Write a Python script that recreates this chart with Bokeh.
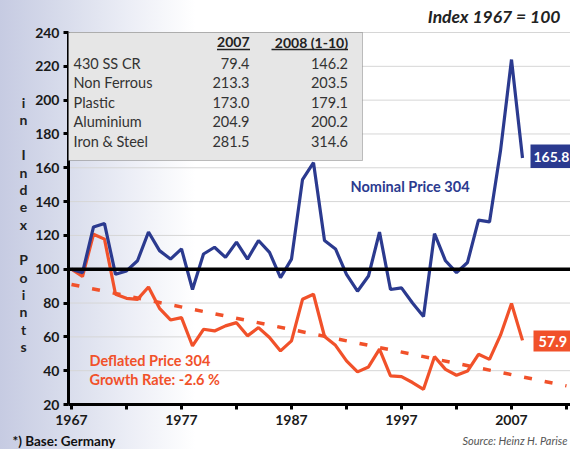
from bokeh.plotting import figure
from bokeh.models import Range1d, FixedTicker, BoxAnnotation, Label
from bokeh.embed import file_html
from bokeh.resources import INLINE

# ---------------- data ----------------
years = list(range(1967, 2009))
nominal = [100, 98, 125, 127, 97, 99, 105, 122, 111, 106,
           112, 88, 109, 113, 107, 116, 106, 117, 110, 95,
           106, 153, 163, 117, 112, 97, 87, 96, 122, 88,
           89, 80, 72, 121, 105, 98, 104, 129, 128, 170,
           224, 165.8]
deflated = [100, 95.7, 120.7, 117.8, 85.2, 82.8, 82.2, 89.5, 76.9, 70,
            71.4, 54.6, 64.5, 63.5, 66.5, 68.4, 60.6, 65.5, 59.6, 51.7,
            57.6, 82.2, 85.2, 60.2, 55, 45.8, 39.3, 42.2, 52.7, 36.9,
            36.5, 33, 29, 48.3, 40.8, 37.3, 39.8, 49.7, 46.7, 61,
            79.7, 57.9]
trend_years = [1967, 2012]
trend_values = [91.0, 31.0]
base_index = 100

y_ticks = [20, 40, 60, 80, 100, 120, 140, 160, 180, 200, 220, 240]
x_label_years = [1967, 1977, 1987, 1997, 2007]
x_minor_years = [1972, 1982, 1992, 2002, 2012]

table_headers = ["2007", "2008 (1-10)"]
table_rows = ["430 SS CR", "Non Ferrous", "Plastic", "Aluminium", "Iron & Steel"]
table_2007 = ["79.4", "213.3", "173.0", "204.9", "281.5"]
table_2008 = ["146.2", "203.5", "179.1", "200.2", "314.6"]

y_title = "in Index Points"
top_note = "Index 1967 = 100"
foot_left = "*) Base: Germany"
foot_right = "Source: Heinz H. Parise"

# ---------------- layout helpers ----------------
BLUE = "#2B3A8F"
RED = "#F1512A"
FONT = "Lato"
W, H = 570, 449
FL, FT, FB, FR = 68, 32, 404, 570   # plot-area edges in page pixels
X0, PXY = 71, 11.0                   # page x of 1967, px per year
PYU = (FB - FT) / 220.0


def xd(px):
    return 1967 + (px - X0) / PXY


def yd(py):
    return 20 + (FB - py) / PYU


# the frame covers the whole canvas; axes are pinned at the plot-area edges
p = figure(width=W, height=H, output_backend="svg", toolbar_location=None,
           x_range=Range1d(xd(0), xd(W)), y_range=Range1d(yd(H), yd(0)),
           min_border_left=0, min_border_right=0,
           min_border_top=0, min_border_bottom=0)
p.background_fill_color = None
p.border_fill_color = None
p.outline_line_color = None
p.styles = {"background": "linear-gradient(to right, #c6cbe2 0px, #d9ddec 68px, #eceef6 130px, #ffffff 195px)"}

p.xaxis.fixed_location = 20
p.yaxis.fixed_location = xd(FL)
p.xaxis.bounds = (xd(FL), xd(FR + 5))
p.yaxis.bounds = (20, 240)

for ax in (p.xaxis[0], p.yaxis[0]):
    ax.axis_line_color = "black"
    ax.axis_line_width = 3
    ax.major_tick_line_color = "black"
    ax.major_tick_line_width = 3
    ax.major_tick_in = 0
    ax.major_tick_out = 5
    ax.minor_tick_line_color = "black"
    ax.minor_tick_line_width = 3
    ax.minor_tick_in = 0
    ax.minor_tick_out = 5
    ax.major_label_text_font = FONT
    ax.major_label_text_font_style = "bold"
    ax.major_label_text_font_size = "14px"
    ax.major_label_text_color = "#1a1a1a"
p.xaxis.ticker = FixedTicker(ticks=x_label_years, minor_ticks=x_minor_years)
p.yaxis.ticker = FixedTicker(ticks=y_ticks, minor_ticks=[])
p.xaxis.major_label_standoff = 5
p.yaxis.major_label_standoff = 4

# horizontal grid lines from the y axis to the right edge, at the y ticks
p.grid.visible = False
p.segment(x0=[xd(FL)] * len(y_ticks), y0=y_ticks, x1=[xd(FR + 5)] * len(y_ticks), y1=y_ticks,
          line_color="#d6d6d6", line_width=1, level="underlay")

# series
p.line(trend_years, trend_values, line_color=RED, line_width=3.5, line_dash="8 13")
p.line(years, deflated, line_color=RED, line_width=3.2)
p.line(years, nominal, line_color=BLUE, line_width=3.2)
p.segment(x0=[xd(FL)], y0=[base_index], x1=[xd(FR + 5)], y1=[base_index],
          line_color="black", line_width=3.5)

# table box
p.add_layout(BoxAnnotation(left=xd(FL), right=xd(362), top=240, bottom=yd(160),
                           fill_color="#e6e6e6", fill_alpha=1,
                           line_color="#3a3a3a", line_width=1))


def lab(px, py, text, size="14px", style="normal", color="#333333",
        align="left", baseline="middle"):
    p.add_layout(Label(x=xd(px), y=yd(py), text=text, text_font=FONT,
                       text_font_size=size, text_font_style=style,
                       text_color=color, text_align=align,
                       text_baseline=baseline))


# table text
lab(249, 41.5, table_headers[0], style="bold", color="#222222", align="right")
lab(347.5, 41.5, table_headers[1], style="bold", color="#222222", align="right")
p.segment(x0=[xd(216.5), xd(271)], y0=[yd(49), yd(49)],
          x1=[xd(249.5), xd(347.5)], y1=[yd(49), yd(49)],
          line_color="#222222", line_width=1.3, level="overlay")
for i, name in enumerate(table_rows):
    yy = 62.5 + i * 19.5
    lab(73, yy, name, size="14.5px")
    lab(249, yy, table_2007[i], size="14.5px", align="right")
    lab(347.5, yy, table_2008[i], size="14.5px", align="right")

# series annotations
lab(350, 186, "Nominal Price 304", size="14.5px", style="bold", color=BLUE)
lab(89, 360, "Deflated Price 304", size="14.5px", style="bold", color=RED)
lab(89, 378.5, "Growth Rate: -2.6 %", size="14.5px", style="bold", color=RED)

# end-value boxes
p.add_layout(BoxAnnotation(left=xd(530), right=xd(FR + 5), top=yd(144), bottom=yd(167.5),
                           fill_color=BLUE, fill_alpha=1, line_color=None))
lab(533, 156, f"{nominal[-1]:.1f}", size="14px", style="bold", color="white")
p.add_layout(BoxAnnotation(left=xd(533), right=xd(FR + 5), top=yd(330), bottom=yd(351),
                           fill_color=RED, fill_alpha=1, line_color=None))
lab(538, 340.5, f"{deflated[-1]:.1f}", size="14.5px", style="bold", color="white")

# headline, footnotes
lab(560, 15.5, top_note, size="17.5px", style="bold italic", color="#222222", align="right")
lab(12, 440, foot_left, size="13.5px", style="bold", color="#111111")
lab(462, 440, foot_right, size="11px", style="italic", color="#555555")

# stacked (upright letters) y-axis title
for k, ch in enumerate(y_title):
    if ch.strip():
        lab(23, 102 + k * 17.45, ch, size="14px", style="bold", color="#222222",
            align="center", baseline="alphabetic")

open("out.html", "w").write(file_html(p, INLINE))
